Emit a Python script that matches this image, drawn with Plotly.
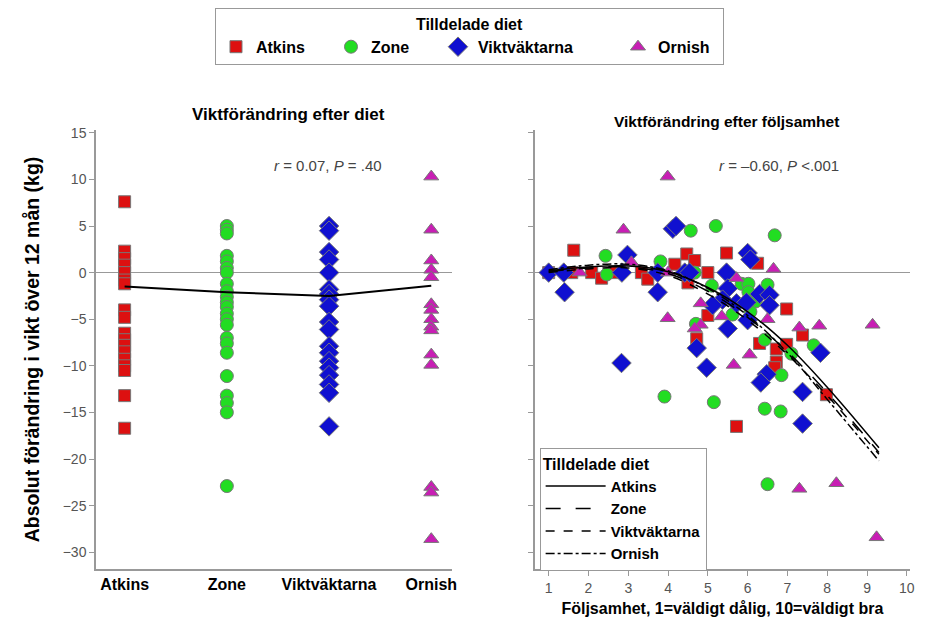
import plotly.graph_objects as go

diets = ["Atkins", "Zone", "Viktväktarna", "Ornish"]
colors = ["#dd1010", "#22dd22", "#1010d0", "#c81eb4"]
symbols = ["square", "circle", "diamond", "triangle-up"]
sizes = [12, 13, 15, 13]
dashes = ["solid", "longdash", "dash", "dashdot"]
legend_widths = [70, 62, 135, 60]

# vänster panel: förändring per diet (kg)
atkins_change = [7.6, 2.3, 1.5, 0.8, 0.0, -0.8, -1.2, -4.0, -4.8, -6.5, -7.2, -7.8,
                 -8.5, -9.3, -10.0, -10.5, -13.2, -16.7]
zone_change = [5.0, 4.6, 4.2, 1.8, 1.2, 0.5, 0.0, -1.2, -2.0, -2.6, -3.2, -3.7, -4.4,
               -5.0, -5.6, -7.0, -7.6, -8.6, -11.1, -13.2, -14.0, -15.0, -22.9]
vikt_change = [5.0, 4.5, 2.2, 1.4, 0.0, -1.8, -2.3, -2.9, -3.6, -5.3, -6.1, -7.9, -8.6,
               -9.5, -10.2, -11.0, -12.0, -12.9, -16.5]
ornish_change = [10.3, 4.6, 1.3, 0.3, -0.5, -3.4, -4.0, -5.0, -5.8, -6.2, -8.8, -9.9,
                 -23.0, -23.6, -28.6]
mean_change = [-1.5, -2.1, -2.5, -1.4]

# höger panel: följsamhet mot förändring
atkins_adh = [1.0, 1.58, 1.63, 2.08, 2.33, 2.66, 3.33, 3.49, 4.17, 4.47, 4.67, 4.5, 5.0,
              5.47, 6.25, 5.0, 4.72, 6.98, 7.38, 6.3, 6.72, 6.98, 6.72, 6.68, 7.98, 5.72]
atkins_w = [0.0, 0.0, 2.4, 0.0, -0.6, 0.0, 0.0, -0.7, 0.9, 2.0, 1.3, -1.1, 0.0,
            2.1, 1.0, -4.6, -7.1, -3.9, -6.7, -7.6, -8.2, -7.7, -9.6, -10.2, -13.1, -16.5]
zone_adh = [2.43, 2.46, 3.81, 4.57, 5.2, 6.68, 4.67, 5.1, 5.85, 6.02, 6.5, 6.02, 6.2,
            5.62, 6.07, 4.7, 6.43, 7.1, 7.66, 6.85, 5.15, 3.91, 6.43, 6.83, 6.5]
zone_w = [1.8, -0.2, 1.2, 4.5, 5.0, 4.0, 0.0, -1.4, -1.2, -1.2, -1.3, -2.1, -3.1,
          -4.5, -4.2, -5.5, -7.2, -8.7, -7.8, -11.0, -13.9, -13.3, -14.6, -14.9, -22.7]
vikt_adh = [1.0, 1.38, 1.4, 2.84, 2.98, 3.74, 3.74, 4.12, 4.2, 4.42, 4.54, 5.47, 6.0,
            6.07, 5.5, 6.3, 6.55, 5.37, 5.12, 5.72, 5.97, 6.55, 6.0, 5.5, 4.72, 7.83,
            4.97, 6.48, 6.33, 7.38, 2.83, 7.38]
vikt_w = [0.0, 0.0, -2.1, 0.0, 1.9, 0.0, -2.1, 4.7, 5.0, 0.0, 0.0, 0.0, 2.1,
          1.4, -1.7, -2.3, -2.4, -2.9, -3.5, -3.3, -3.2, -3.5, -5.1, -6.0, -8.1, -8.6,
          -10.2, -10.9, -11.8, -12.8, -9.7, -16.2]
ornish_adh = [1.78, 2.88, 3.08, 3.99, 4.0, 3.99, 4.82, 5.72, 6.65, 5.35, 6.5, 4.82,
              4.67, 7.3, 7.8, 9.14, 6.05, 5.65, 7.3, 8.23, 9.24]
ornish_w = [0.0, 4.6, 1.1, 10.3, 0.0, -4.9, -3.3, -0.6, 0.4, -4.7, -5.0, -5.6,
            -6.0, -5.9, -5.7, -5.6, -8.8, -9.9, -23.2, -22.6, -28.4]

# anpassade kurvor
fit_x = [1, 2, 3, 4, 5, 6, 7, 8, 9.3]
fit_atkins = [0.2, 0.6, 0.7, 0.1, -1.6, -4.2, -7.8, -12.3, -18.8]
fit_zone = [0.1, 0.5, 0.6, -0.1, -2.0, -4.8, -8.5, -12.9, -19.3]
fit_vikt = [0.0, 0.4, 0.5, -0.3, -2.3, -5.1, -8.8, -13.2, -19.5]
fit_ornish = [0.3, 0.8, 0.9, 0.2, -1.7, -4.6, -8.6, -13.6, -20.2]

left_y = [atkins_change, zone_change, vikt_change, ornish_change]
right_x = [atkins_adh, zone_adh, vikt_adh, ornish_adh]
right_y = [atkins_w, zone_w, vikt_w, ornish_w]
fits = [fit_atkins, fit_zone, fit_vikt, fit_ornish]

FONT = "Liberation Sans, Arial, sans-serif"
fig = go.Figure()

for i, d in enumerate(diets):
    fig.add_trace(go.Scatter(
        x=[d] * len(left_y[i]), y=left_y[i], mode="markers", name=d,
        marker=dict(symbol=symbols[i], color=colors[i], size=sizes[i],
                    line=dict(color="#777777", width=1)),
        legendwidth=legend_widths[i], xaxis="x", yaxis="y", legend="legend"))

fig.add_trace(go.Scatter(x=diets, y=mean_change, mode="lines", showlegend=False,
                         line=dict(color="black", width=2), xaxis="x", yaxis="y"))

for i, d in enumerate(diets):
    fig.add_trace(go.Scatter(
        x=right_x[i], y=right_y[i], mode="markers", name=d, showlegend=False,
        marker=dict(symbol=symbols[i], color=colors[i], size=sizes[i],
                    line=dict(color="#777777", width=1)),
        xaxis="x2", yaxis="y2"))

for i, d in enumerate(diets):
    fig.add_trace(go.Scatter(
        x=fit_x, y=fits[i], mode="lines", name=d, line_shape="spline",
        line=dict(color="black", width=1.5, dash=dashes[i]),
        xaxis="x2", yaxis="y2", legend="legend2"))

yticks = [15, 10, 5, 0, -5, -10, -15, -20, -25, -30]
axis_common = dict(showline=True, linecolor="#999999", linewidth=1.5, showgrid=False,
                   ticks="outside", tickcolor="#999999", ticklen=5)

fig.update_layout(
    width=943, height=625,
    margin=dict(l=88, r=41, t=122, b=64),
    plot_bgcolor="white", paper_bgcolor="white",
    font=dict(family=FONT, size=14, color="#555555"),
    xaxis=dict(domain=[0, 0.437], type="category", range=[-0.28, 3.2],
               showline=True, linecolor="#999999", linewidth=1.5, showgrid=False,
               ticks="", tickfont=dict(size=16, color="black", weight="bold")),
    yaxis=dict(**axis_common, range=[-31.8, 15.3], tickvals=yticks,
               zeroline=True, zerolinecolor="#999999", zerolinewidth=1,
               title=dict(text="Absolut förändring i vikt över 12 mån (kg)", standoff=18,
                          font=dict(size=19.5, color="black", weight="bold"))),
    xaxis2=dict(**axis_common, domain=[0.539, 1], range=[0.65, 10.08],
                tickvals=list(range(1, 11)), anchor="y2", zeroline=False,
                title=dict(text="Följsamhet, 1=väldigt dålig, 10=väldigt bra", standoff=8,
                           font=dict(size=16, color="black", weight="bold"))),
    yaxis2=dict(**axis_common, range=[-31.8, 15.3], tickvals=yticks, anchor="x2",
                showticklabels=False, zeroline=True, zerolinecolor="#999999",
                zerolinewidth=1),
    legend=dict(orientation="h", xref="container", yref="container",
                x=0.2195, y=1.0, xanchor="left", yanchor="top",
                bordercolor="#999999", borderwidth=1,
                font=dict(size=16, color="black", weight="bold"),
                title=dict(text="Tilldelade diet", side="top center",
                           font=dict(size=16, color="black", weight="bold"))),
    legend2=dict(x=0.545, y=0.276, xanchor="left", yanchor="top", itemwidth=60,
                 bordercolor="#999999", borderwidth=1, bgcolor="white",
                 font=dict(size=15, color="black", weight="bold"),
                 title=dict(text="Tilldelade diet",
                            font=dict(size=16, color="black", weight="bold"))),
    annotations=[
        dict(text="<b>Viktförändring efter diet</b>", x=0.236, y=1.036, xref="paper",
             yref="paper", xanchor="center", yanchor="middle", showarrow=False,
             font=dict(size=17, color="black")),
        dict(text="<b>Viktförändring efter följsamhet</b>", x=0.774, y=1.0205,
             xref="paper", yref="paper", xanchor="center", yanchor="middle",
             showarrow=False, font=dict(size=15.5, color="black")),
        dict(text="<i>r</i> = 0.07, <i>P</i> = .40", x=0.285, y=0.918, xref="paper",
             yref="paper", xanchor="center", yanchor="middle", showarrow=False,
             font=dict(size=15, color="#444444")),
        dict(text="<i>r</i> = –0.60, <i>P</i> <.001", x=0.839, y=0.918, xref="paper",
             yref="paper", xanchor="center", yanchor="middle", showarrow=False,
             font=dict(size=15, color="#444444")),
    ],
)

fig.write_html("out.html")
